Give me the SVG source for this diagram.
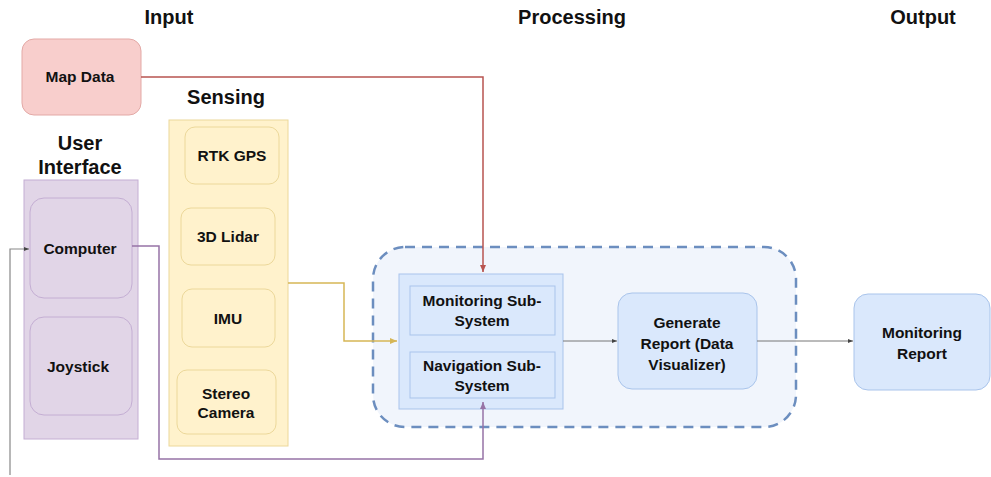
<svg xmlns="http://www.w3.org/2000/svg" width="991" height="477" viewBox="0 0 991 477">
<defs>
<style>
text{font-family:"Liberation Sans",Arial,sans-serif;font-weight:bold;fill:#111;text-anchor:middle}
.h{font-size:20px}
.n{font-size:15.5px}
.blue{fill:#dae8fc;stroke:#a9c4eb;stroke-width:1}
.yel{fill:#fff2cc;stroke:#ecd89a;stroke-width:1}
.pur{fill:#e1d5e7;stroke:#c4aed3;stroke-width:1}
.c{fill:none;stroke-width:1.5}
</style>
<marker id="ar" markerWidth="8" markerHeight="8" refX="7" refY="4" orient="auto" markerUnits="userSpaceOnUse"><path d="M0,1 L7,4 L0,7 Z" fill="context-stroke"/></marker>
<marker id="ag" markerWidth="6" markerHeight="6" refX="5" refY="3" orient="auto" markerUnits="userSpaceOnUse"><path d="M0,1 L5,3 L0,5 Z" fill="#444"/></marker>
</defs>
<rect width="991" height="477" fill="#fff"/>
<text class="h" x="169" y="24">Input</text>
<text class="h" x="572" y="24">Processing</text>
<text class="h" x="923" y="24">Output</text>
<g id="processing-group">
<rect x="373" y="247" width="423" height="180" rx="32" fill="#f1f5fc" stroke="#6c8ebf" stroke-width="2.5" stroke-dasharray="10,7"/>
</g>
<g id="map-data">
<rect x="22" y="39" width="119" height="76" rx="12" fill="#f8cecc" stroke="#e3a9a6"/>
<text class="n" x="80" y="82">Map Data</text>
</g>
<g id="sensing">
<text class="h" x="226" y="104">Sensing</text>
<rect class="yel" x="169" y="120" width="119" height="326"/>
</g>
<g id="rtk-gps"><rect class="yel" x="185" y="127" width="94" height="57" rx="10"/><text class="n" x="232" y="161">RTK GPS</text></g>
<g id="lidar"><rect class="yel" x="181" y="208" width="94" height="57" rx="10"/><text class="n" x="228" y="242">3D Lidar</text></g>
<g id="imu"><rect class="yel" x="182" y="289" width="93" height="58" rx="10"/><text class="n" x="228" y="324">IMU</text></g>
<g id="stereo-camera"><rect class="yel" x="177" y="370" width="99" height="64" rx="10"/><text class="n" x="226" y="399">Stereo</text><text class="n" x="226" y="418">Camera</text></g>
<g id="user-interface">
<text class="h" x="80" y="150">User</text>
<text class="h" x="80" y="174">Interface</text>
<rect class="pur" x="24" y="180" width="114" height="259"/>
</g>
<g id="computer"><rect class="pur" x="30" y="198" width="102" height="100" rx="14"/><text class="n" x="80" y="254">Computer</text></g>
<g id="joystick"><rect class="pur" x="30" y="317" width="102" height="98" rx="14"/><text class="n" x="78" y="372">Joystick</text></g>
<g id="subsystems">
<rect class="blue" x="399" y="274" width="164" height="135"/>
</g>
<g id="monitoring-sub"><rect class="blue" x="410" y="286" width="145" height="49"/><text class="n" x="482" y="306">Monitoring Sub-</text><text class="n" x="482" y="326">System</text></g>
<g id="navigation-sub"><rect class="blue" x="410" y="352" width="145" height="46"/><text class="n" x="482" y="371">Navigation Sub-</text><text class="n" x="482" y="391">System</text></g>
<g id="generate-report"><rect class="blue" x="618" y="293" width="139" height="96" rx="14"/><text class="n" x="687" y="328">Generate</text><text class="n" x="687" y="349">Report (Data</text><text class="n" x="687" y="370">Visualizer)</text></g>
<g id="monitoring-report"><rect class="blue" x="854" y="294" width="136" height="96" rx="14"/><text class="n" x="922" y="338">Monitoring</text><text class="n" x="922" y="359">Report</text></g>
<g id="connectors">
<path class="c" d="M141,77 H483 V272" stroke="#b85450" marker-end="url(#ar)"/>
<path class="c" d="M288,283 H344 V341 H397" stroke="#d6b656" marker-end="url(#ar)"/>
<path class="c" d="M132,246 H159 V459 H483 V402" stroke="#9673a6" marker-end="url(#ar)"/>
<path d="M10,475 V249 H29" fill="none" stroke="#888" stroke-width="1.2" marker-end="url(#ag)"/>
<path d="M563,341 H617" fill="none" stroke="#777" stroke-width="1" marker-end="url(#ag)"/>
<path d="M757,341 H853" fill="none" stroke="#777" stroke-width="1" marker-end="url(#ag)"/>
</g>
</svg>
